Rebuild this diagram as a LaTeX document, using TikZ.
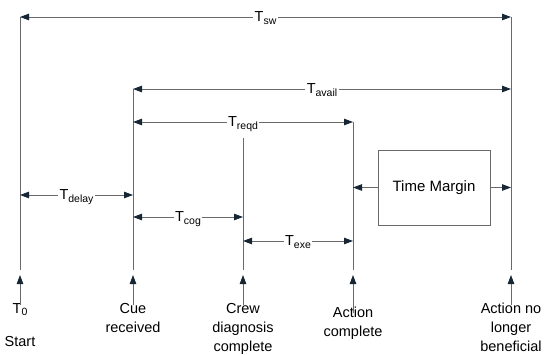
\documentclass[tikz,border=0pt]{standalone}
\usepackage{fontspec}
\setmainfont{Liberation Sans}
\usetikzlibrary{arrows.meta,positioning}
\definecolor{linegray}{RGB}{105,105,105}
\definecolor{tipnavy}{RGB}{22,38,52}
\newcommand{\tsub}[1]{\raisebox{-2.5pt}{\fontsize{10.5}{12}\selectfont #1}}
\tikzset{
    timeline/.style={draw=linegray, line width=0.9pt},
    dimarrow/.style={{Triangle[length=9pt,width=6.5pt,color=tipnavy]}-{Triangle[length=9pt,width=6.5pt,color=tipnavy]},
        draw=linegray, line width=0.9pt},
    onearrow/.style={-{Triangle[length=9pt,width=6.5pt,color=tipnavy]}, draw=linegray, line width=0.9pt},
    dimlabel/.style={fill=white, inner sep=1.5pt, anchor=base, yshift=-5pt, font=\fontsize{14.5}{17}\selectfont},
    eventlabel/.style={align=center, anchor=north, inner xsep=2pt, inner ysep=2pt,
        font=\fontsize{14.5}{19}\selectfont},
    marginbox/.style={draw=linegray, line width=0.9pt, minimum width=112pt, minimum height=75pt,
        font=\fontsize{15}{18}\selectfont}
}

\begin{document}
\begin{tikzpicture}[x=1pt, y=1pt]
\useasboundingbox (0,0) rectangle (544,354);
\coordinate (t0top) at (20,337);
\coordinate (cuetop) at (133,265);
\coordinate (crewtop) at (243,216);
\coordinate (acttop) at (353,232);
\coordinate (endtop) at (511,337);
\coordinate (ydelay) at (0,159);
\coordinate (ycog) at (0,137);
\coordinate (yexe) at (0,113);
\coordinate (ybase) at (0,84);
\coordinate (ytip) at (0,79);

\foreach \pt in {t0top,cuetop,crewtop,acttop,endtop}
    \draw[timeline] (\pt) -- (\pt |- ybase);

\draw[dimarrow] (t0top) -- node[dimlabel] (lblsw) {T\tsub{sw}} (endtop);
\draw[dimarrow] (cuetop) -- node[dimlabel] (lblavail) {T\tsub{avail}} (cuetop -| endtop);
\draw[dimarrow] (acttop -| cuetop) -- node[dimlabel] (lblreqd) {T\tsub{reqd}} (acttop);
\draw[dimarrow] (t0top |- ydelay) -- node[dimlabel] (lbldelay) {T\tsub{delay}} (cuetop |- ydelay);
\draw[dimarrow] (cuetop |- ycog) -- node[dimlabel] (lblcog) {T\tsub{cog}} (crewtop |- ycog);
\draw[dimarrow] (crewtop |- yexe) -- node[dimlabel] (lblexe) {T\tsub{exe}} (acttop |- yexe);

\node[marginbox] (margin) at (434,166.5) {Time Margin};
\draw[onearrow] (margin.west) -- (margin.west -| acttop);
\draw[onearrow] (margin.east) -- (margin.east -| endtop);

\node[eventlabel] (evstart) at (20,53) {T\tsub{0}\\[14.5pt]Start};
\node[eventlabel] (evcue) at (133,53) {Cue\\received};
\node[eventlabel] (evcrew) at (243,53) {Crew\\diagnosis\\complete};
\node[eventlabel] (evaction) at (353,49) {Action\\complete};
\node[eventlabel] (evend) at (511,53) {Action no\\longer\\beneficial};
\foreach \ev in {evstart,evcue,evcrew,evend}
    \draw[onearrow, shorten <=-4pt] (\ev.north) -- (\ev.north |- ytip);
\draw[onearrow, shorten <=-8pt] (evaction.north) -- (evaction.north |- ytip);
\end{tikzpicture}
\end{document}
